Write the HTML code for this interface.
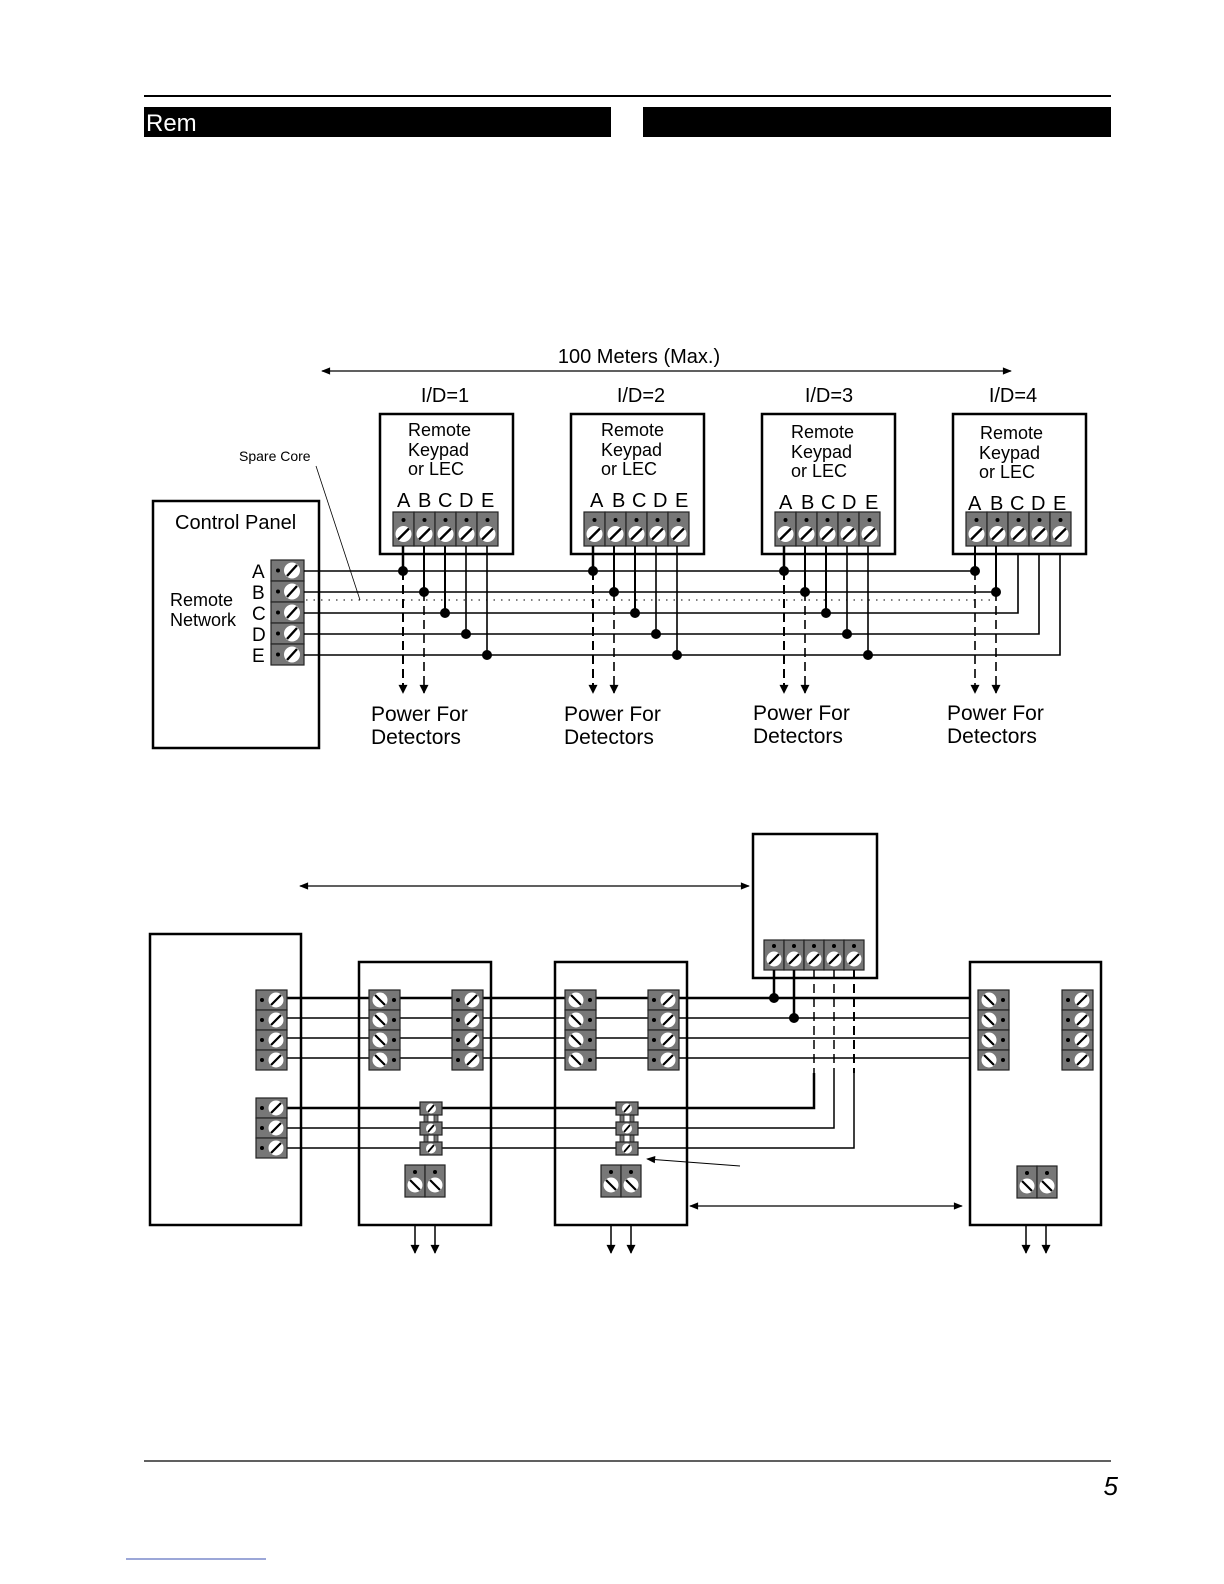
<!DOCTYPE html>
<html><head><meta charset="utf-8"><style>
html,body{margin:0;padding:0;background:#fff;width:1224px;height:1584px;overflow:hidden}
svg{display:block}
text{font-family:"Liberation Sans",sans-serif;fill:#000}
</style></head><body>
<svg width="1224" height="1584" viewBox="0 0 1224 1584" xmlns="http://www.w3.org/2000/svg">
<defs>
<marker id="ah" viewBox="0 0 10 10" refX="9" refY="5" markerWidth="11" markerHeight="9" markerUnits="userSpaceOnUse" orient="auto-start-reverse"><path d="M0,1 L10,5 L0,9 z" fill="#000"/></marker>
<marker id="ad" viewBox="0 0 10 10" refX="9" refY="5" markerWidth="10" markerHeight="9" markerUnits="userSpaceOnUse" orient="auto"><path d="M0,0 L10,5 L0,10 z" fill="#000"/></marker>
<g id="cv"><rect x="0" y="0" width="21" height="34" fill="#777" stroke="#222" stroke-width="1.2"/><circle cx="10.5" cy="8" r="2" fill="#000"/><circle cx="10.5" cy="22" r="8" fill="#fff"/><line x1="5" y1="27.5" x2="16" y2="16.5" stroke="#000" stroke-width="2.4"/></g>
<g id="cvs"><rect x="0" y="0" width="20" height="30" fill="#777" stroke="#222" stroke-width="1.2"/><circle cx="10" cy="6" r="2" fill="#000"/><circle cx="10" cy="19" r="7.5" fill="#fff"/><line x1="5" y1="24" x2="15" y2="14" stroke="#000" stroke-width="2.2"/></g>
<g id="ch"><rect x="0" y="0" width="33" height="21" fill="#777" stroke="#222" stroke-width="1.2"/><circle cx="7" cy="10.5" r="2" fill="#000"/><circle cx="21" cy="10.5" r="8" fill="#fff"/><line x1="16" y1="16" x2="26" y2="5" stroke="#000" stroke-width="2.4"/></g>
<g id="cb"><rect x="0" y="0" width="31" height="20" fill="#777" stroke="#222" stroke-width="1.2"/><circle cx="6" cy="10" r="2" fill="#000"/><circle cx="20" cy="10" r="7.5" fill="#fff"/><line x1="15" y1="15" x2="25" y2="5" stroke="#000" stroke-width="2.2"/></g>
<g id="cbr"><rect x="0" y="0" width="31" height="20" fill="#777" stroke="#222" stroke-width="1.2"/><circle cx="25" cy="10" r="2" fill="#000"/><circle cx="11" cy="10" r="7.5" fill="#fff"/><line x1="6" y1="5" x2="16" y2="15" stroke="#000" stroke-width="2.2"/></g>
<g id="c2"><rect x="0" y="0" width="20" height="32" fill="#777" stroke="#222" stroke-width="1.2"/><circle cx="10" cy="7" r="2" fill="#000"/><circle cx="10" cy="20" r="7.5" fill="#fff"/><line x1="5" y1="15" x2="15" y2="25" stroke="#000" stroke-width="2.2"/></g>
<g id="sm"><rect x="0" y="0" width="22" height="13" fill="#777" stroke="#222" stroke-width="1.2"/><circle cx="11" cy="6.5" r="5" fill="#fff"/><line x1="8" y1="10" x2="14" y2="3" stroke="#000" stroke-width="1.8"/></g>
</defs>

<!-- header -->
<line x1="144" y1="96" x2="1111" y2="96" stroke="#000" stroke-width="2"/>
<rect x="144" y="107" width="467" height="30" fill="#000"/>
<rect x="643" y="107" width="468" height="30" fill="#000"/>
<text x="146" y="131" font-size="24" style="fill:#fff">Rem</text>

<!-- top diagram -->
<line x1="322" y1="371" x2="1011" y2="371" stroke="#000" stroke-width="1.3" marker-start="url(#ah)" marker-end="url(#ah)"/>
<text x="639" y="363" font-size="20" text-anchor="middle">100 Meters (Max.)</text>
<text x="445" y="402" font-size="20" text-anchor="middle">I/D=1</text>
<text x="641" y="402" font-size="20" text-anchor="middle">I/D=2</text>
<text x="829" y="402" font-size="20" text-anchor="middle">I/D=3</text>
<text x="1013" y="402" font-size="20" text-anchor="middle">I/D=4</text>

<text x="239" y="461" font-size="14">Spare Core</text>
<line x1="316" y1="466" x2="360" y2="600" stroke="#000" stroke-width="0.8"/>

<rect x="153" y="501" width="166" height="247" fill="none" stroke="#000" stroke-width="2.5"/>
<text x="175" y="529" font-size="20">Control Panel</text>
<text x="170" y="606" font-size="18">Remote</text>
<text x="170" y="626" font-size="18">Network</text>
<g font-size="19"><text x="252" y="578">A</text><text x="252" y="599">B</text><text x="252" y="620">C</text><text x="252" y="641">D</text><text x="252" y="662">E</text></g>
<use href="#ch" x="271" y="560"/><use href="#ch" x="271" y="581"/><use href="#ch" x="271" y="602"/><use href="#ch" x="271" y="623"/><use href="#ch" x="271" y="644"/>

<g stroke="#000" fill="none" stroke-width="1.6">
<line x1="304" y1="571" x2="975" y2="571"/>
<line x1="304" y1="592" x2="996" y2="592"/>
<polyline points="304,613 1018,613 1018,546"/>
<polyline points="304,634 1039,634 1039,546"/>
<polyline points="304,655 1060,655 1060,546"/>
</g>
<line x1="306" y1="600" x2="992" y2="600" stroke="#000" stroke-width="1" stroke-dasharray="1.5,6"/>

<!-- keypads -->
<g id="kp">
<rect x="380" y="414" width="133" height="140" fill="#fff" stroke="#000" stroke-width="2.5"/>
<use href="#cv" x="393" y="512"/><use href="#cv" x="414" y="512"/><use href="#cv" x="435" y="512"/><use href="#cv" x="456" y="512"/><use href="#cv" x="477" y="512"/>
</g>
<use href="#kp" x="191" y="0"/><use href="#kp" x="382" y="0"/><use href="#kp" x="573" y="0"/>
<g font-size="18">
<text x="408" y="436">Remote</text><text x="408" y="456">Keypad</text><text x="408" y="475">or LEC</text>
<text x="601" y="436">Remote</text><text x="601" y="456">Keypad</text><text x="601" y="475">or LEC</text>
<text x="791" y="438">Remote</text><text x="791" y="458">Keypad</text><text x="791" y="477">or LEC</text>
<text x="980" y="439">Remote</text><text x="979" y="459">Keypad</text><text x="979" y="478">or LEC</text>
</g>
<g font-size="20">
<text x="397" y="507">A</text><text x="418" y="507">B</text><text x="438" y="507">C</text><text x="459" y="507">D</text><text x="481" y="507">E</text>
<text x="590" y="507">A</text><text x="612" y="507">B</text><text x="632" y="507">C</text><text x="653" y="507">D</text><text x="675" y="507">E</text>
<text x="779" y="509">A</text><text x="801" y="509">B</text><text x="821" y="509">C</text><text x="842" y="509">D</text><text x="865" y="509">E</text>
<text x="968" y="510">A</text><text x="990" y="510">B</text><text x="1010" y="510">C</text><text x="1031" y="510">D</text><text x="1053" y="510">E</text>
</g>

<!-- verticals -->
<g id="vt" stroke="#000" fill="none">
<line x1="403" y1="546" x2="403" y2="571" stroke-width="2.5"/>
<line x1="403" y1="571" x2="403" y2="693" stroke-width="2" stroke-dasharray="9,5" marker-end="url(#ad)"/>
<line x1="424" y1="546" x2="424" y2="592" stroke-width="2"/>
<line x1="424" y1="592" x2="424" y2="693" stroke-width="1.6" stroke-dasharray="9,5" marker-end="url(#ad)"/>
<line x1="445" y1="546" x2="445" y2="613" stroke-width="2"/>
<line x1="466" y1="546" x2="466" y2="634" stroke-width="1.6"/>
<line x1="487" y1="546" x2="487" y2="655" stroke-width="1.6"/>
<g fill="#000" stroke="none"><circle cx="403" cy="571" r="5"/><circle cx="424" cy="592" r="5"/><circle cx="445" cy="613" r="5"/><circle cx="466" cy="634" r="5"/><circle cx="487" cy="655" r="5"/></g>
</g>
<use href="#vt" x="190" y="0"/><use href="#vt" x="381" y="0"/>
<g stroke="#000" fill="none">
<line x1="975" y1="546" x2="975" y2="571" stroke-width="2"/>
<line x1="975" y1="571" x2="975" y2="693" stroke-width="1.6" stroke-dasharray="9,5" marker-end="url(#ad)"/>
<line x1="996" y1="546" x2="996" y2="592" stroke-width="2"/>
<line x1="996" y1="592" x2="996" y2="693" stroke-width="1.6" stroke-dasharray="9,5" marker-end="url(#ad)"/>
</g>
<circle cx="975" cy="571" r="5"/><circle cx="996" cy="592" r="5"/>

<g font-size="21">
<text x="371" y="721">Power For</text><text x="371" y="744">Detectors</text>
<text x="564" y="721">Power For</text><text x="564" y="744">Detectors</text>
<text x="753" y="720">Power For</text><text x="753" y="743">Detectors</text>
<text x="947" y="720">Power For</text><text x="947" y="743">Detectors</text>
</g>

<!-- bottom diagram -->
<line x1="300" y1="886" x2="749" y2="886" stroke="#000" stroke-width="1.3" marker-start="url(#ah)" marker-end="url(#ah)"/>
<line x1="690" y1="1206" x2="962" y2="1206" stroke="#000" stroke-width="1.3" marker-start="url(#ah)" marker-end="url(#ah)"/>
<line x1="740" y1="1166" x2="647" y2="1159" stroke="#000" stroke-width="1" marker-end="url(#ah)"/>

<rect x="150" y="934" width="151" height="291" fill="none" stroke="#000" stroke-width="2.5"/>
<rect x="753" y="834" width="124" height="144" fill="#fff" stroke="#000" stroke-width="2.5"/>
<use href="#cvs" x="764" y="940"/><use href="#cvs" x="784" y="940"/><use href="#cvs" x="804" y="940"/><use href="#cvs" x="824" y="940"/><use href="#cvs" x="844" y="940"/>

<g stroke="#000" fill="none" stroke-width="1.5">
<line x1="287" y1="998" x2="978" y2="998" stroke-width="2.5"/>
<line x1="287" y1="1018" x2="978" y2="1018"/>
<line x1="287" y1="1038" x2="978" y2="1038"/>
<line x1="287" y1="1058" x2="978" y2="1058"/>
<polyline points="287,1108 814,1108 814,1073" stroke-width="2.5"/>
<polyline points="287,1128 834,1128 834,1073"/>
<polyline points="287,1148 854,1148 854,1073"/>
<line x1="774" y1="970" x2="774" y2="998" stroke-width="2.5"/>
<line x1="794" y1="970" x2="794" y2="1018" stroke-width="2.5"/>
<line x1="814" y1="970" x2="814" y2="1073" stroke-dasharray="9,5"/>
<line x1="834" y1="970" x2="834" y2="1073" stroke-dasharray="9,5"/>
<line x1="854" y1="970" x2="854" y2="1073" stroke-dasharray="9,5" stroke-width="2"/>
</g>
<circle cx="774" cy="998" r="5"/><circle cx="794" cy="1018" r="5"/>

<use href="#cb" x="256" y="990"/><use href="#cb" x="256" y="1010"/><use href="#cb" x="256" y="1030"/><use href="#cb" x="256" y="1050"/>
<use href="#cb" x="256" y="1098"/><use href="#cb" x="256" y="1118"/><use href="#cb" x="256" y="1138"/>

<g id="mod">
<rect x="359" y="962" width="132" height="263" fill="none" stroke="#000" stroke-width="2.5"/>
<use href="#cbr" x="369" y="990"/><use href="#cbr" x="369" y="1010"/><use href="#cbr" x="369" y="1030"/><use href="#cbr" x="369" y="1050"/>
<use href="#cb" x="452" y="990"/><use href="#cb" x="452" y="1010"/><use href="#cb" x="452" y="1030"/><use href="#cb" x="452" y="1050"/>
<rect x="424" y="1114" width="4" height="30" fill="#777" stroke="#222" stroke-width="0.8"/>
<rect x="434" y="1114" width="4" height="30" fill="#777" stroke="#222" stroke-width="0.8"/>
<use href="#sm" x="420" y="1102"/><use href="#sm" x="420" y="1122"/><use href="#sm" x="420" y="1142"/>
<use href="#c2" x="405" y="1165"/><use href="#c2" x="425" y="1165"/>
<g stroke="#000" stroke-width="1.5"><line x1="415" y1="1225" x2="415" y2="1253" marker-end="url(#ad)"/><line x1="435" y1="1225" x2="435" y2="1253" marker-end="url(#ad)"/></g>
</g>
<use href="#mod" x="196" y="0"/>

<rect x="970" y="962" width="131" height="263" fill="#fff" stroke="#000" stroke-width="2.5"/>
<use href="#cbr" x="978" y="990"/><use href="#cbr" x="978" y="1010"/><use href="#cbr" x="978" y="1030"/><use href="#cbr" x="978" y="1050"/>
<use href="#cb" x="1062" y="990"/><use href="#cb" x="1062" y="1010"/><use href="#cb" x="1062" y="1030"/><use href="#cb" x="1062" y="1050"/>
<use href="#c2" x="1017" y="1166"/><use href="#c2" x="1037" y="1166"/>
<g stroke="#000" stroke-width="1.5"><line x1="1026" y1="1225" x2="1026" y2="1253" marker-end="url(#ad)"/><line x1="1046" y1="1225" x2="1046" y2="1253" marker-end="url(#ad)"/></g>

<!-- footer -->
<line x1="144" y1="1461" x2="1111" y2="1461" stroke="#000" stroke-width="1.2"/>
<text x="1118" y="1495" font-size="26" font-style="italic" text-anchor="end">5</text>
<line x1="126" y1="1559" x2="266" y2="1559" stroke="#3a4fb0" stroke-width="1"/>
</svg>
</body></html>
